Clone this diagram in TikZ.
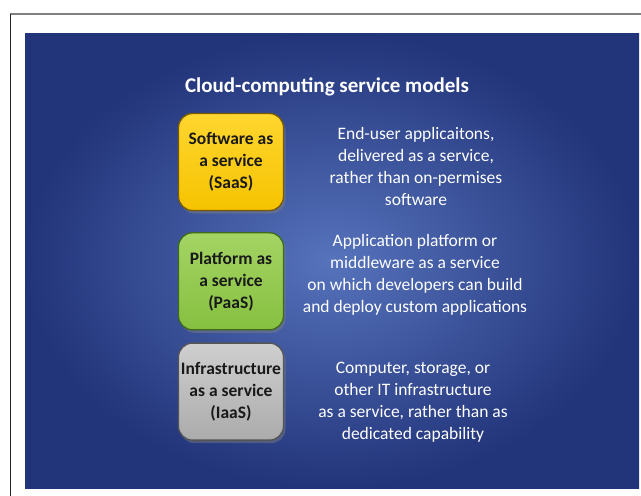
\documentclass[tikz,border=0pt]{standalone}
\usepackage{xcolor}
\usepackage{fontspec}
\setmainfont{Carlito}
\usepackage{tikz}
\usetikzlibrary{positioning,shadows}
\definecolor{paneldark}{HTML}{22347A}
\definecolor{panellight}{HTML}{5673BC}
\definecolor{saasfill}{HTML}{F5C300}
\definecolor{saastop}{HTML}{FFD630}
\definecolor{saasedge}{HTML}{7A5A00}
\definecolor{paasfill}{HTML}{86C040}
\definecolor{paastop}{HTML}{A4D464}
\definecolor{paasedge}{HTML}{3F6A1A}
\definecolor{iaasfill}{HTML}{ABABAB}
\definecolor{iaastop}{HTML}{CFCFCF}
\definecolor{iaasedge}{HTML}{555555}
\tikzset{
	model/.style={rounded corners=14pt, line width=1.3pt, minimum width=105pt, minimum height=97pt, inner sep=0pt, align=center, text=black!90, font=\fontsize{17.5}{22}\selectfont\bfseries, drop shadow={opacity=0.45, shadow xshift=2pt, shadow yshift=-3pt}},
	desc/.style={align=center, text=white, inner sep=0pt, font=\fontsize{17.5}{22}\selectfont},
	heading/.style={text=white, inner sep=0pt, font=\fontsize{21}{25}\selectfont\bfseries}
}
\begin{document}
\begin{tikzpicture}[x=1pt,y=-1pt]
		\useasboundingbox (0,0) rectangle (641,496);
		\draw[line width=1.5pt, draw=black!50] (10,14) -- (641,14);
		\draw[line width=1pt, draw=black!85] (10,14) -- (10,496);
		\shade[inner color=panellight, outer color=paneldark] (25,33) rectangle (639,488);

		\node[heading] (title) at (327,87) {Cloud-computing service models};

		\node[model, draw=saasedge, top color=saastop, bottom color=saasfill] (saas) at (231,162) {Software as\\a service\\(SaaS)};
		\node[model, draw=paasedge, top color=paastop, bottom color=paasfill, below=21pt of saas] (paas) {Platform as\\a service\\(PaaS)};
		\node[model, draw=iaasedge, top color=iaastop, bottom color=iaasfill, below=12pt of paas] (iaas) {Infrastructure\\as a service\\(IaaS)};

		\node[desc] (saasdesc) at (416,166) {End-user applicaitons,\\delivered as a service,\\rather than on-permises\\software};
		\node[desc] (paasdesc) at (415,275) {Application platform or\\middleware as a service\\on which developers can build\\and deploy custom applications};
		\node[desc] (iaasdesc) at (413,402) {Computer, storage, or\\other IT infrastructure\\as a service, rather than as\\dedicated capability};
	\end{tikzpicture}
\end{document}
